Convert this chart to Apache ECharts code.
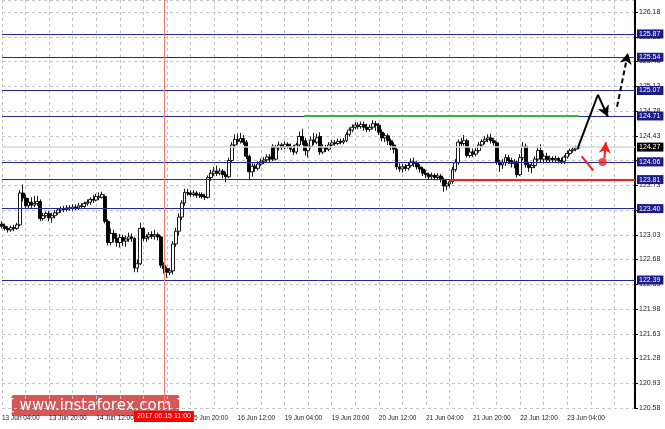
<!DOCTYPE html>
<html><head><meta charset="utf-8">
<script src="https://cdn.jsdelivr.net/npm/echarts@6/dist/echarts.min.js"></script>
<style>html,body{margin:0;padding:0;background:#fff}#c{width:665px;height:429px}</style>
</head><body><div id="c"></div>
<script>
// ---- data ----
const timeLabels = ['13 Jun 04:00','13 Jun 20:00','14 Jun 12:00','15 Jun 04:00','15 Jun 20:00','16 Jun 12:00','19 Jun 04:00','19 Jun 20:00','20 Jun 12:00','21 Jun 04:00','21 Jun 20:00','22 Jun 12:00','23 Jun 04:00'];
const barsOnAxis = 216; // hourly slots incl. right-side chart shift
const opens = [123.18,123.15,123.12,123.10,123.13,123.12,123.17,123.62,123.55,123.44,
123.49,123.45,123.47,123.50,123.26,123.30,123.33,123.27,123.30,123.34,
123.38,123.40,123.39,123.41,123.40,123.42,123.41,123.44,123.43,123.47,
123.49,123.53,123.52,123.57,123.56,123.57,123.22,122.92,123.05,122.98,
122.92,122.99,122.94,122.97,123.00,122.98,122.56,122.62,123.12,122.98,
123.00,123.03,123.01,123.03,123.00,122.60,122.55,122.50,122.52,122.90,
123.08,123.28,123.48,123.63,123.62,123.60,123.62,123.59,123.60,123.57,
123.56,123.84,123.90,123.93,123.90,123.93,123.88,123.85,124.08,124.30,
124.38,124.35,124.39,124.34,124.14,123.92,124.00,123.97,124.03,124.07,
124.09,124.13,124.28,124.10,124.26,124.30,124.27,124.31,124.28,124.24,
124.20,124.30,124.42,124.36,124.22,124.28,124.37,124.34,124.42,124.20,
124.26,124.24,124.30,124.33,124.32,124.35,124.34,124.36,124.45,124.51,
124.55,124.58,124.56,124.59,124.55,124.52,124.55,124.60,124.58,124.48,
124.40,124.43,124.36,124.30,124.24,123.99,123.96,123.99,123.97,124.01,
124.06,124.04,123.99,123.96,123.90,123.88,123.85,123.87,123.84,123.86,
123.81,123.72,123.75,123.78,123.95,124.05,124.34,124.32,124.36,124.15,
124.20,124.17,124.22,124.30,124.35,124.38,124.40,124.36,124.33,124.06,
124.02,124.05,124.12,124.08,124.04,124.06,123.88,124.12,124.28,124.02,
123.98,124.01,124.10,124.22,124.10,124.14,124.09,124.11,124.09,124.11,
124.08,124.07,124.13,124.18,124.22,124.24,124.26];
const closes = [123.15,123.12,123.10,123.13,123.12,123.17,123.62,123.55,123.44,123.49,
123.45,123.47,123.50,123.26,123.30,123.33,123.27,123.30,123.34,123.38,
123.40,123.39,123.41,123.40,123.42,123.41,123.44,123.43,123.47,123.49,
123.53,123.52,123.57,123.56,123.60,123.22,122.92,123.05,122.98,122.92,
122.99,122.94,122.97,123.00,122.98,122.56,122.62,123.12,122.98,123.00,
123.03,123.01,123.03,123.00,122.60,122.55,122.50,122.52,122.90,123.08,
123.28,123.48,123.63,123.62,123.60,123.62,123.59,123.60,123.57,123.56,
123.84,123.90,123.93,123.90,123.93,123.88,123.85,124.08,124.30,124.38,
124.35,124.39,124.34,124.14,123.92,124.00,123.97,124.03,124.07,124.09,
124.13,124.10,124.10,124.26,124.30,124.27,124.31,124.28,124.24,124.20,
124.30,124.42,124.36,124.22,124.28,124.37,124.34,124.40,124.20,124.26,
124.24,124.30,124.33,124.32,124.35,124.34,124.36,124.45,124.51,124.55,
124.58,124.56,124.59,124.55,124.52,124.55,124.60,124.58,124.48,124.40,
124.43,124.36,124.30,124.24,123.99,123.96,123.99,123.97,124.01,124.06,
124.04,123.99,123.96,123.90,123.88,123.85,123.87,123.84,123.86,123.81,
123.72,123.75,123.78,123.95,124.05,124.34,124.32,124.36,124.15,124.20,
124.17,124.22,124.30,124.35,124.38,124.40,124.36,124.33,124.06,124.02,
124.05,124.12,124.08,124.04,124.06,123.88,124.12,124.28,124.02,123.98,
124.01,124.10,124.22,124.10,124.14,124.09,124.11,124.09,124.11,124.08,
124.07,124.13,124.18,124.22,124.24,124.26,124.27];
const lows = [123.12,123.09,123.06,123.07,123.08,123.10,123.15,123.50,123.40,123.40,
123.41,123.42,123.44,123.22,123.23,123.27,123.22,123.20,123.26,123.31,
123.34,123.35,123.36,123.37,123.37,123.38,123.38,123.40,123.41,123.44,
123.45,123.48,123.50,123.52,123.54,123.19,122.88,122.88,122.92,122.86,
122.85,122.87,122.86,122.93,122.93,122.50,122.50,122.60,122.94,122.93,
122.96,122.97,122.96,122.95,122.56,122.48,122.42,122.46,122.47,122.86,
123.02,123.24,123.44,123.58,123.56,123.57,123.55,123.55,123.54,123.52,
123.54,123.79,123.86,123.86,123.87,123.83,123.77,123.83,124.05,124.26,
124.31,124.32,124.30,124.10,123.80,123.85,123.92,123.94,124.00,124.03,
124.06,124.06,124.07,124.08,124.22,124.23,124.24,124.25,124.20,124.16,
124.17,124.27,124.30,124.15,124.12,124.25,124.30,124.31,124.16,124.17,
124.20,124.21,124.27,124.29,124.30,124.31,124.31,124.34,124.42,124.48,
124.52,124.52,124.53,124.50,124.48,124.49,124.52,124.50,124.44,124.35,
124.34,124.30,124.23,124.18,123.95,123.92,123.91,123.93,123.94,123.98,
123.99,123.95,123.91,123.86,123.83,123.80,123.81,123.80,123.80,123.77,
123.64,123.66,123.70,123.75,123.92,124.02,124.28,124.29,124.12,124.12,
124.13,124.14,124.19,124.27,124.31,124.34,124.32,124.29,124.02,123.92,
123.96,124.00,124.03,123.98,123.97,123.84,123.86,124.08,123.98,123.92,
123.90,123.97,124.07,124.05,124.04,124.05,124.06,124.05,124.06,124.04,
124.03,124.03,124.11,124.15,124.19,124.21,124.24];
const highs = [123.22,123.19,123.15,123.16,123.17,123.20,123.66,123.74,123.60,123.55,
123.56,123.58,123.58,123.53,123.34,123.36,123.37,123.34,123.38,123.41,
123.43,123.44,123.45,123.45,123.46,123.46,123.48,123.48,123.50,123.53,
123.56,123.59,123.61,123.63,123.64,123.60,123.25,123.12,123.10,123.05,
123.04,123.03,123.02,123.06,123.05,123.00,122.68,123.20,123.14,123.04,
123.07,123.08,123.10,123.06,123.02,122.64,122.58,122.56,122.94,123.13,
123.33,123.52,123.68,123.68,123.66,123.66,123.65,123.63,123.63,123.61,
123.87,123.95,123.99,124.01,123.97,123.96,123.92,124.12,124.34,124.45,
124.46,124.47,124.44,124.37,124.16,124.04,124.04,124.07,124.11,124.13,
124.17,124.17,124.31,124.30,124.35,124.33,124.35,124.34,124.32,124.30,
124.33,124.49,124.53,124.40,124.33,124.42,124.47,124.46,124.48,124.31,
124.30,124.34,124.37,124.37,124.39,124.39,124.40,124.48,124.55,124.59,
124.62,124.62,124.63,124.63,124.60,124.59,124.65,124.64,124.61,124.52,
124.47,124.46,124.39,124.34,124.26,124.04,124.03,124.03,124.05,124.11,
124.12,124.07,124.03,123.99,123.95,123.91,123.91,123.90,123.90,123.89,
123.84,123.80,123.82,123.99,124.10,124.38,124.40,124.44,124.39,124.26,
124.25,124.26,124.34,124.38,124.42,124.45,124.46,124.40,124.35,124.09,
124.10,124.17,124.16,124.12,124.10,124.08,124.17,124.34,124.32,124.06,
124.05,124.14,124.28,124.31,124.18,124.19,124.15,124.14,124.15,124.13,
124.12,124.16,124.22,124.25,124.28,124.29,124.29];
const levels = [125.87,125.54,125.07,124.71,124.06,123.81,123.40,122.39];
const currentPrice = 124.27;
const markedBar = 55;
const markedLabel = '2017.06.15 11:00';
const greenLevel = {value:124.71, from:102.6, to:196};
const redLevel = {value:123.81, from:152, to:215};
const blackArrow = [[195.6,124.26],[202.4,125.01],[205.8,124.70]];
const dashedArrow = [[208.9,124.84],[212.6,125.60]];
const redStroke = [[196.9,124.14],[200.8,123.94]];
const redDot = [[204.0,124.06]];
const redArrow = [[204.6,124.11],[205.1,124.34]];
const yMin = 120.58, yMax = 126.35, yStep = 0.35;

// ---- build ----
const cats = Array.from({length: barsOnAxis}, (_, i) => i);
const candles = opens.map((o, i) => [o, closes[i], lows[i], highs[i]]);
const FONT = 'Liberation Sans';

const chart = echarts.init(document.getElementById('c'), null, {renderer: 'canvas'});
chart.setOption({
  animation: false,
  backgroundColor: '#fff',
  grid: {left: 2, right: 30, top: 0, bottom: 21, outerBoundsMode: 'none'},
  xAxis: [{
    type: 'category', data: cats, boundaryGap: false,
    axisLine: {show: false}, axisTick: {show: false},
    axisLabel: {
      interval: (i) => i % 16 === 0, align: 'left', margin: 7,
      fontSize: 6.5, color: '#222', fontFamily: FONT,
      formatter: (v, i) => timeLabels[i / 16] || ''
    },
    splitLine: {show: true, interval: (i) => i % 8 === 0,
      lineStyle: {color: '#c4c4c4', type: [3, 3], width: 1}}
  }, {
    type: 'value', min: 0, max: barsOnAxis - 1, show: false
  }],
  yAxis: {
    type: 'value', position: 'right', min: yMin, max: yMax, interval: yStep,
    axisLine: {show: true, onZero: false, lineStyle: {color: '#000', width: 2}},
    axisTick: {show: true, length: 3, lineStyle: {color: '#000'}},
    axisLabel: {margin: 4, fontSize: 7, color: '#222', fontFamily: FONT, showMaxLabel: false,
      formatter: (v) => v.toFixed(2)},
    splitLine: {show: true, lineStyle: {color: '#c4c4c4', type: [3, 3], width: 1}}
  },
  series: [{
    type: 'candlestick', name: 'USDJPY', xAxisIndex: 0, data: candles,
    barWidth: 3.4,
    itemStyle: {color: '#ffffff', color0: '#000000', borderColor: '#000000', borderColor0: '#000000', borderWidth: 0.9}
  }, {
    type: 'line', xAxisIndex: 1, data: [], silent: true,
    markLine: {
      silent: true, symbol: ['none', 'none'], animation: false,
      data: [
        {yAxis: currentPrice, lineStyle: {color: '#d6d6d6', width: 1.5, type: 'solid'},
          label: {position: 'end', distance: 2, formatter: currentPrice.toFixed(2), backgroundColor: '#000',
            color: '#fff', fontSize: 7, fontFamily: FONT, padding: [1, 3, 1, 2]}},
        ...levels.map(v => ({yAxis: v, lineStyle: {color: '#25259c', width: 1, type: 'solid'},
          label: {position: 'end', distance: 2, formatter: v.toFixed(2), backgroundColor: '#1a1a8a',
            color: '#fff', fontSize: 7, fontFamily: FONT, padding: [1, 3, 1, 2]}})),
        [{coord: [greenLevel.from, greenLevel.value], symbol: 'none', lineStyle: {color: '#3cb43c', width: 2, type: 'solid'}, label: {show: false}},
         {coord: [greenLevel.to, greenLevel.value], symbol: 'none'}],
        [{coord: [redLevel.from, redLevel.value], symbol: 'none', lineStyle: {color: '#ee2020', width: 2, type: 'solid'}, label: {show: false}},
         {coord: [redLevel.to, redLevel.value], symbol: 'none'}],
        {xAxis: markedBar, lineStyle: {color: '#f47a7a', width: 1.2, type: 'solid'},
          label: {position: 'start', distance: 3, formatter: markedLabel, backgroundColor: '#ff0000',
            color: '#fff', fontSize: 7, fontFamily: FONT, padding: [2, 3, 2, 3]}}
      ]
    },
    z: 3
  }, {
    type: 'line', xAxisIndex: 1, data: [], silent: true, z: 5,
    markLine: {
      silent: true, animation: false, symbolSize: [9, 11],
      label: {show: false},
      data: [
        [{coord: blackArrow[0], symbol: 'none', lineStyle: {color: '#000', width: 2, type: 'solid'}}, {coord: blackArrow[1], symbol: 'none'}],
        [{coord: blackArrow[1], symbol: 'none', lineStyle: {color: '#000', width: 2, type: 'solid'}}, {coord: blackArrow[2], symbol: 'arrow'}],
        [{coord: dashedArrow[0], symbol: 'none', lineStyle: {color: '#000', width: 2, type: [5, 3]}}, {coord: dashedArrow[1], symbol: 'arrow'}],
        [{coord: redStroke[0], symbol: 'none', lineStyle: {color: '#ee2020', width: 2, type: 'solid'}}, {coord: redStroke[1], symbol: 'none'}],
        [{coord: redArrow[0], symbol: 'none', lineStyle: {color: '#ee2020', width: 2, type: 'solid'}}, {coord: redArrow[1], symbol: 'arrow'}]
      ]
    }
  }, {
    type: 'scatter', xAxisIndex: 1, data: redDot, symbolSize: 8, silent: true, z: 5,
    itemStyle: {color: '#ee2020'}
  }],
  graphic: [{
    type: 'group', left: 9, top: 395, z: 100,
    children: [
      {type: 'rect', shape: {x: 0, y: 0, width: 168, height: 21, r: 2}, style: {fill: 'rgba(200,40,40,0.78)'}},
      {type: 'text', x: 84, y: 11, style: {text: '[ www.instaforex.com ]', fill: '#fff', font: '15px "DejaVu Sans"', align: 'center', verticalAlign: 'middle'}}
    ]
  }]
});
</script></body></html>
